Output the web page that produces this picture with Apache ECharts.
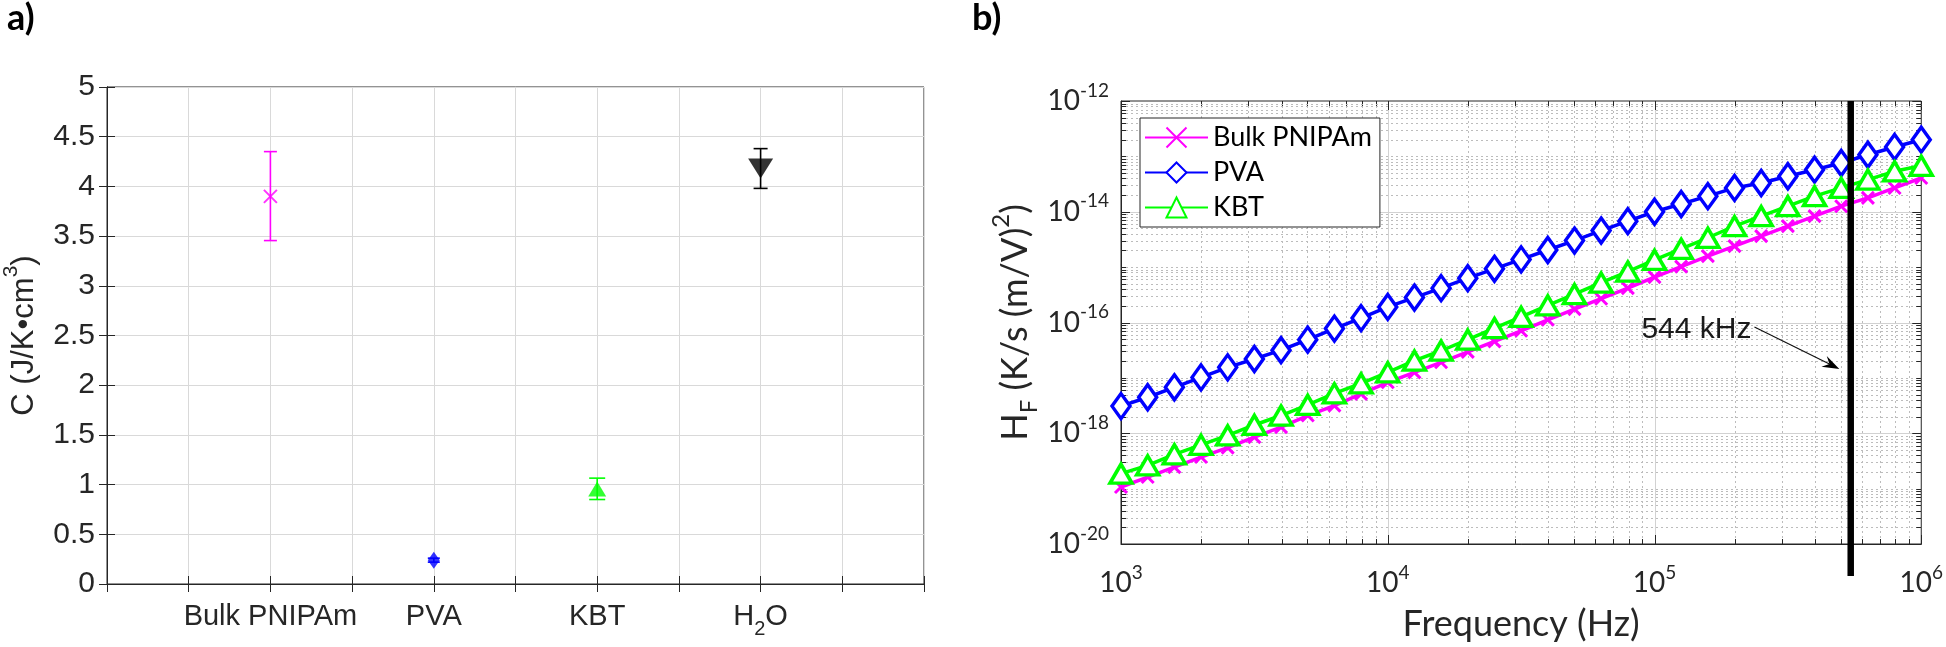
<!DOCTYPE html>
<html><head><meta charset="utf-8">
<script src="https://cdn.jsdelivr.net/npm/echarts@6/dist/echarts.min.js"></script>
<style>html,body{margin:0;padding:0;background:#fff}#chart{width:1946px;height:647px}</style>
</head><body><div id="chart"></div>
<script>
// ---------- Panel a) data ----------
const materials = ['Bulk PNIPAm', 'PVA', 'KBT', 'H2O'];
const heatCapacity = [3.90, 0.24, 0.955, 4.18];
const heatCapLow   = [3.455, 0.22, 0.85, 3.98];
const heatCapHigh  = [4.35, 0.26, 1.065, 4.38];

// ---------- Panel b) data ----------
const frequency = [1000, 1259, 1585, 1995, 2512, 3162, 3981, 5012, 6310, 7943,
  10000, 12589, 15849, 19953, 25119, 31623, 39811, 50119, 63096, 79433,
  100000, 125893, 158489, 199526, 251189, 316228, 398107, 501187, 630957, 794328, 1000000];
const hfBulk = [1.07e-19, 1.62e-19, 2.45e-19, 3.72e-19, 5.50e-19, 8.51e-19, 1.29e-18, 2.09e-18, 3.16e-18, 5.13e-18,
  8.32e-18, 1.26e-17, 1.91e-17, 2.95e-17, 4.57e-17, 7.08e-17, 1.12e-16, 1.74e-16, 2.69e-16, 4.17e-16,
  6.61e-16, 1.02e-15, 1.58e-15, 2.40e-15, 3.63e-15, 5.50e-15, 8.32e-15, 1.26e-14, 1.78e-14, 2.69e-14, 4.07e-14];
const hfPVA = [3.09e-18, 4.47e-18, 6.76e-18, 1.02e-17, 1.55e-17, 2.19e-17, 3.16e-17, 4.90e-17, 7.76e-17, 1.20e-16,
  1.91e-16, 2.82e-16, 4.17e-16, 6.31e-16, 9.33e-16, 1.38e-15, 2.04e-15, 3.02e-15, 4.57e-15, 6.76e-15,
  1.00e-14, 1.38e-14, 1.91e-14, 2.69e-14, 3.31e-14, 4.37e-14, 5.75e-14, 7.59e-14, 1.07e-13, 1.48e-13, 2.00e-13];
const hfKBT = [1.86e-19, 2.63e-19, 4.17e-19, 6.17e-19, 9.12e-19, 1.41e-18, 2.09e-18, 3.24e-18, 5.25e-18, 7.94e-18,
  1.26e-17, 2.04e-17, 3.09e-17, 4.90e-17, 7.94e-17, 1.26e-16, 2.04e-16, 3.24e-16, 5.25e-16, 8.32e-16,
  1.35e-15, 2.14e-15, 3.39e-15, 5.50e-15, 8.32e-15, 1.26e-14, 1.91e-14, 2.69e-14, 3.80e-14, 5.37e-14, 6.76e-14];
const seriesNames = ['Bulk PNIPAm', 'PVA', 'KBT'];
const markerFreq = 544000;
const markerLabel = '544 kHz';
const arrowTail = [2.37e5, 8.3e-17];
const arrowHead = [4.93e5, 1.45e-17];
const xRange = [1e3, 1e6];
const yRange = [1e-20, 1e-12];

// ---------- styles ----------
const AX = '#262626';
const fontA = 'Liberation Sans';
const fontB = 'Lato';
const matColors = ['#ff00ff', '#0000ff', '#00ff00', '#000000'];
const capHalf = [6.5, 6, 8, 7];
const crossPath = 'path://M0,0L10,10M10,0L0,10';

function chem(s) {
  return '{n|' + s.replace(/([A-Za-z])(\d+)/g, '$1}{sub|$2}{n|') + '}';
}

function renderErrorBar(params, api) {
  const x = api.value(0), lo = api.value(1), hi = api.value(2), i = api.value(3);
  const a = api.coord([x, lo]), b = api.coord([x, hi]);
  const hw = capHalf[i];
  const st = { stroke: matColors[i], lineWidth: 1.6 };
  return { type: 'group', children: [
    { type: 'line', shape: { x1: a[0], y1: a[1], x2: b[0], y2: b[1] }, style: st },
    { type: 'line', shape: { x1: a[0] - hw, y1: a[1], x2: a[0] + hw, y2: a[1] }, style: st },
    { type: 'line', shape: { x1: b[0] - hw, y1: b[1], x2: b[0] + hw, y2: b[1] }, style: st }
  ]};
}

function renderLogGrid(params, api) {
  const ch = [];
  const bl = api.coord([xRange[0], yRange[0]]), tr = api.coord([xRange[1], yRange[1]]);
  const L = bl[0], B = bl[1], R = tr[0], T = tr[1];
  const majorStyle = { stroke: '#d2d2d2', lineWidth: 1 };
  const minorStyle = { stroke: '#bcbcbc', lineWidth: 1, lineDash: [2, 3] };
  const tickStyle = { stroke: AX, lineWidth: 1 };
  const ex0 = Math.round(Math.log10(xRange[0])), ex1 = Math.round(Math.log10(xRange[1]));
  for (let e = ex0; e <= ex1; e++) {
    for (let m = 1; m <= 9; m++) {
      if (e === ex1 && m > 1) break;
      const v = m * Math.pow(10, e);
      const px = Math.round(api.coord([v, yRange[0]])[0]) + 0.5;
      const major = m === 1;
      if (px > L + 2 && px < R - 2) {
        ch.push({ type: 'line', shape: { x1: px, y1: T, x2: px, y2: B }, style: major ? majorStyle : minorStyle });
      }
      const tl = major ? 9 : 5;
      ch.push({ type: 'line', shape: { x1: px, y1: B, x2: px, y2: B - tl }, style: tickStyle });
      ch.push({ type: 'line', shape: { x1: px, y1: T, x2: px, y2: T + tl }, style: tickStyle });
    }
  }
  const ey0 = Math.round(Math.log10(yRange[0])), ey1 = Math.round(Math.log10(yRange[1]));
  for (let e = ey0; e <= ey1; e++) {
    for (let m = 1; m <= 9; m++) {
      if (e === ey1 && m > 1) break;
      const v = m * Math.pow(10, e);
      const py = Math.round(api.coord([xRange[0], v])[1]) + 0.5;
      const major = m === 1 && (e % 2 === 0);
      if (py > T + 2 && py < B - 2) {
        ch.push({ type: 'line', shape: { x1: L, y1: py, x2: R, y2: py }, style: major ? majorStyle : minorStyle });
      }
      const tl = major ? 9 : 5;
      ch.push({ type: 'line', shape: { x1: L, y1: py, x2: L + tl, y2: py }, style: tickStyle });
      ch.push({ type: 'line', shape: { x1: R, y1: py, x2: R - tl, y2: py }, style: tickStyle });
    }
  }
  return { type: 'group', children: ch };
}

function renderVLine(params, api) {
  const t = api.coord([api.value(0), yRange[1]]), b = api.coord([api.value(0), yRange[0]]);
  return { type: 'line', shape: { x1: t[0], y1: t[1], x2: t[0], y2: b[1] + 32 },
    style: { stroke: '#000', lineWidth: 6.5 } };
}

function renderArrow(params, api) {
  const p1 = api.coord([api.value(0), api.value(1)]);
  const p2 = api.coord([api.value(2), api.value(3)]);
  const dx = p2[0] - p1[0], dy = p2[1] - p1[1];
  const len = Math.sqrt(dx * dx + dy * dy);
  const ux = dx / len, uy = dy / len, nx = -uy, ny = ux;
  const HL = 17, HW = 12;
  const back = [p2[0] - ux * HL, p2[1] - uy * HL];
  const notch = [p2[0] - ux * HL * 0.65, p2[1] - uy * HL * 0.65];
  return { type: 'group', children: [
    { type: 'line', shape: { x1: p1[0], y1: p1[1], x2: notch[0], y2: notch[1] }, style: { stroke: '#111', lineWidth: 1.2 } },
    { type: 'polygon', shape: { points: [p2, [back[0] + nx * HW / 2, back[1] + ny * HW / 2], notch, [back[0] - nx * HW / 2, back[1] - ny * HW / 2]] }, style: { fill: '#000' } },
    { type: 'text', x: p1[0] - 3, y: p1[1] + 3, style: { text: markerLabel, fontFamily: fontA, fontSize: 30, fill: '#1a1a1a', align: 'right', verticalAlign: 'middle' } }
  ]};
}

const richA = {
  n: { fontFamily: fontA, fontSize: 29, color: AX, lineHeight: 44, verticalAlign: 'middle' },
  sub: { fontFamily: fontA, fontSize: 20, color: AX, verticalAlign: 'bottom' },
  sup: { fontFamily: fontA, fontSize: 20, color: AX, verticalAlign: 'top' }
};
const richAName = {
  n: { fontFamily: fontA, fontSize: 31, color: AX, lineHeight: 46, verticalAlign: 'middle' },
  sup: { fontFamily: fontA, fontSize: 21, color: AX, verticalAlign: 'top' }
};
const richB = {
  b: { fontFamily: fontB, fontSize: 28, color: AX, lineHeight: 40, verticalAlign: 'middle' },
  sup: { fontFamily: fontB, fontSize: 19, color: AX, verticalAlign: 'top' }
};
const richBName = {
  n: { fontFamily: fontB, fontSize: 36, color: AX, lineHeight: 52, verticalAlign: 'middle' },
  sub: { fontFamily: fontB, fontSize: 24, color: AX, verticalAlign: 'bottom' },
  sup: { fontFamily: fontB, fontSize: 24, color: AX, verticalAlign: 'top' }
};
const logLabel = v => '{b|10}{sup|' + Math.round(Math.log10(v)) + '}';

const leftSymbols = [crossPath, 'diamond', 'triangle', 'triangle'];
const leftSizes = [[13, 13], [12, 17], [18, 15], [25, 20]];
const leftScatter = materials.map((m, i) => ({
  type: 'scatter', name: 'a-' + m, xAxisIndex: 0, yAxisIndex: 0, z: 4,
  data: [[i + 1, heatCapacity[i]]],
  symbol: leftSymbols[i], symbolSize: leftSizes[i],
  symbolRotate: i === 3 ? 180 : 0,
  itemStyle: i === 0 ? { color: 'transparent', borderColor: matColors[0], borderWidth: 2 } : { color: matColors[i] },
  silent: true
}));

const hfData = [hfBulk, hfPVA, hfKBT];
const lineColors = ['#ff00ff', '#0000ff', '#00ff00'];
const lineSymbols = [crossPath, 'diamond', 'triangle'];
const lineSymSizes = [[12, 12], [18, 25], [22, 19]];
const rightLines = seriesNames.map((nm, i) => ({
  type: 'line', name: nm, xAxisIndex: 2, yAxisIndex: 2, z: 3 + i,
  data: frequency.map((f, k) => [f, hfData[i][k]]),
  symbol: lineSymbols[i], symbolSize: lineSymSizes[i], showSymbol: true, showAllSymbol: true,
  lineStyle: { color: lineColors[i], width: 3.5 },
  itemStyle: i === 0 ? { color: 'transparent', borderColor: lineColors[i], borderWidth: 3 }
                     : { color: '#ffffff', borderColor: lineColors[i], borderWidth: 3.5 },
  silent: true
}));

const option = {
  animation: false,
  backgroundColor: '#fff',
  graphic: [
    { type: 'text', left: 7, top: 0, style: { text: 'a)', fontFamily: fontB, fontWeight: 'bold', fontSize: 36, fill: '#000' } },
    { type: 'text', left: 972, top: 0, style: { text: 'b)', fontFamily: fontB, fontWeight: 'bold', fontSize: 36, fill: '#000' } }
  ],
  grid: [
    { left: 107, top: 87, width: 817, height: 497, show: true, borderColor: AX, borderWidth: 1 },
    { left: 1121, top: 101, width: 801, height: 445, show: true, borderColor: AX, borderWidth: 1 }
  ],
  legend: {
    data: seriesNames, orient: 'vertical', left: 1140, top: 118,
    itemWidth: 63, itemHeight: 25, itemGap: 8, padding: [6, 8, 6, 4],
    backgroundColor: '#fff', borderColor: AX, borderWidth: 1, borderRadius: 0,
    textStyle: { fontFamily: fontB, fontSize: 27, color: '#000' }, selectedMode: false
  },
  xAxis: [
    { gridIndex: 0, type: 'value', min: 0, max: 5, interval: 0.5,
      axisLine: { show: true, lineStyle: { color: AX } },
      axisTick: { show: true, inside: true, length: 8, lineStyle: { color: AX } },
      splitLine: { show: true, lineStyle: { color: '#d9d9d9' } },
      axisLabel: { margin: 11, rich: richA,
        formatter: v => { const r = Math.round(v); if (Math.abs(v - r) > 1e-6 || r < 1 || r > materials.length) return ''; return chem(materials[r - 1]); } } },
    { gridIndex: 0, type: 'value', position: 'top', min: 0, max: 5, interval: 0.5,
      axisLine: { show: true, lineStyle: { color: AX } },
      axisTick: { show: true, inside: true, length: 8, lineStyle: { color: AX } },
      axisLabel: { show: false }, splitLine: { show: false } },
    { gridIndex: 1, type: 'log', logBase: 10, min: xRange[0], max: xRange[1], interval: 1,
      axisLine: { show: true, lineStyle: { color: AX } }, axisTick: { show: false }, splitLine: { show: false },
      axisLabel: { margin: 19, rich: richB, formatter: logLabel },
      name: 'Frequency (Hz)', nameLocation: 'middle', nameGap: 62,
      nameTextStyle: { fontFamily: fontB, fontSize: 36, color: AX } }
  ],
  yAxis: [
    { gridIndex: 0, type: 'value', min: 0, max: 5, interval: 0.5,
      axisLine: { show: true, lineStyle: { color: AX } },
      axisTick: { show: true, inside: true, length: 8, lineStyle: { color: AX } },
      splitLine: { show: true, lineStyle: { color: '#d9d9d9' } },
      axisLabel: { margin: 12, fontFamily: fontA, fontSize: 30, color: AX },
      name: '{n|C (J/K•cm}{sup|3}{n|)}', nameLocation: 'middle', nameGap: 60,
      nameTextStyle: { rich: richAName } },
    { gridIndex: 0, type: 'value', position: 'right', min: 0, max: 5, interval: 0.5,
      axisLine: { show: true, lineStyle: { color: AX } },
      axisTick: { show: true, inside: true, length: 8, lineStyle: { color: AX } },
      axisLabel: { show: false }, splitLine: { show: false } },
    { gridIndex: 1, type: 'log', logBase: 10, min: yRange[0], max: yRange[1], interval: 2,
      axisLine: { show: true, lineStyle: { color: AX } }, axisTick: { show: false }, splitLine: { show: false },
      axisLabel: { margin: 12, rich: richB, formatter: logLabel },
      name: '{n|H}{sub|F}{n| (K/s (m/V)}{sup|2}{n|)}', nameLocation: 'middle', nameGap: 80,
      nameTextStyle: { rich: richBName } }
  ],
  series: [
    ...leftScatter,
    { type: 'custom', name: 'errbars', xAxisIndex: 0, yAxisIndex: 0, z: 3, silent: true,
      renderItem: renderErrorBar, encode: { x: 0, y: [1, 2] },
      data: materials.map((m, i) => [i + 1, heatCapLow[i], heatCapHigh[i], i]) },
    { type: 'custom', name: 'loggrid', xAxisIndex: 2, yAxisIndex: 2, z: 1, silent: true,
      renderItem: renderLogGrid, data: [[xRange[0], yRange[0]]] },
    ...rightLines,
    { type: 'custom', name: 'vline', xAxisIndex: 2, yAxisIndex: 2, z: 8, silent: true, clip: false,
      renderItem: renderVLine, encode: { x: 0, y: 1 }, data: [[markerFreq, yRange[0]]] },
    { type: 'custom', name: 'arrow', xAxisIndex: 2, yAxisIndex: 2, z: 9, silent: true, clip: false,
      renderItem: renderArrow, encode: { x: [0, 2], y: [1, 3] },
      data: [[arrowTail[0], arrowTail[1], arrowHead[0], arrowHead[1]]] }
  ]
};

const chart = echarts.init(document.getElementById('chart'), null, { renderer: 'canvas' });
chart.setOption(option);
</script>
</body></html>
